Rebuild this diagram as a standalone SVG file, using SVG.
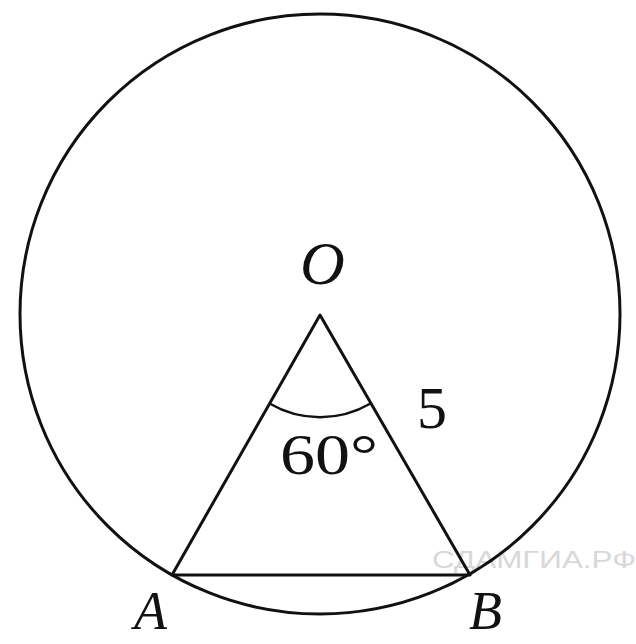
<svg xmlns="http://www.w3.org/2000/svg" width="636" height="644" viewBox="0 0 636 644">
<style>
.ln{fill:none;stroke:#111;stroke-width:3;stroke-linecap:round;stroke-linejoin:round}
.arc{fill:none;stroke:#111;stroke-width:2.5}
.lbl{font-family:"Liberation Serif","Times New Roman",serif;fill:#111}
.it{font-style:italic}
.wm{font-family:"Liberation Sans",Arial,sans-serif;fill:#d8d8d8;font-size:23px}
</style>
<rect width="636" height="644" fill="#fff"/>
<text class="wm" x="432" y="568" textLength="204" lengthAdjust="spacingAndGlyphs">СДАМГИА.РФ</text>
<g id="circle"><circle class="ln" cx="320" cy="314" r="300"/></g>
<g id="connectors">
<polyline class="ln" points="172,575 320,315 470,575 172,575"/>
<path class="arc" d="M269.5,403.5 A100,100 0 0 0 370.5,403.5"/>
</g>
<g id="O"><text class="lbl it" x="300" y="284" font-size="62">O</text></g>
<g id="A"><text class="lbl it" x="134" y="629" font-size="54">A</text></g>
<g id="B"><text class="lbl it" x="469" y="629" font-size="54">B</text></g>
<g id="side"><text class="lbl" x="417" y="428" font-size="60">5</text></g>
<g id="angle"><text class="lbl" x="280" y="474" font-size="58" textLength="98" lengthAdjust="spacingAndGlyphs">60°</text></g>
</svg>
